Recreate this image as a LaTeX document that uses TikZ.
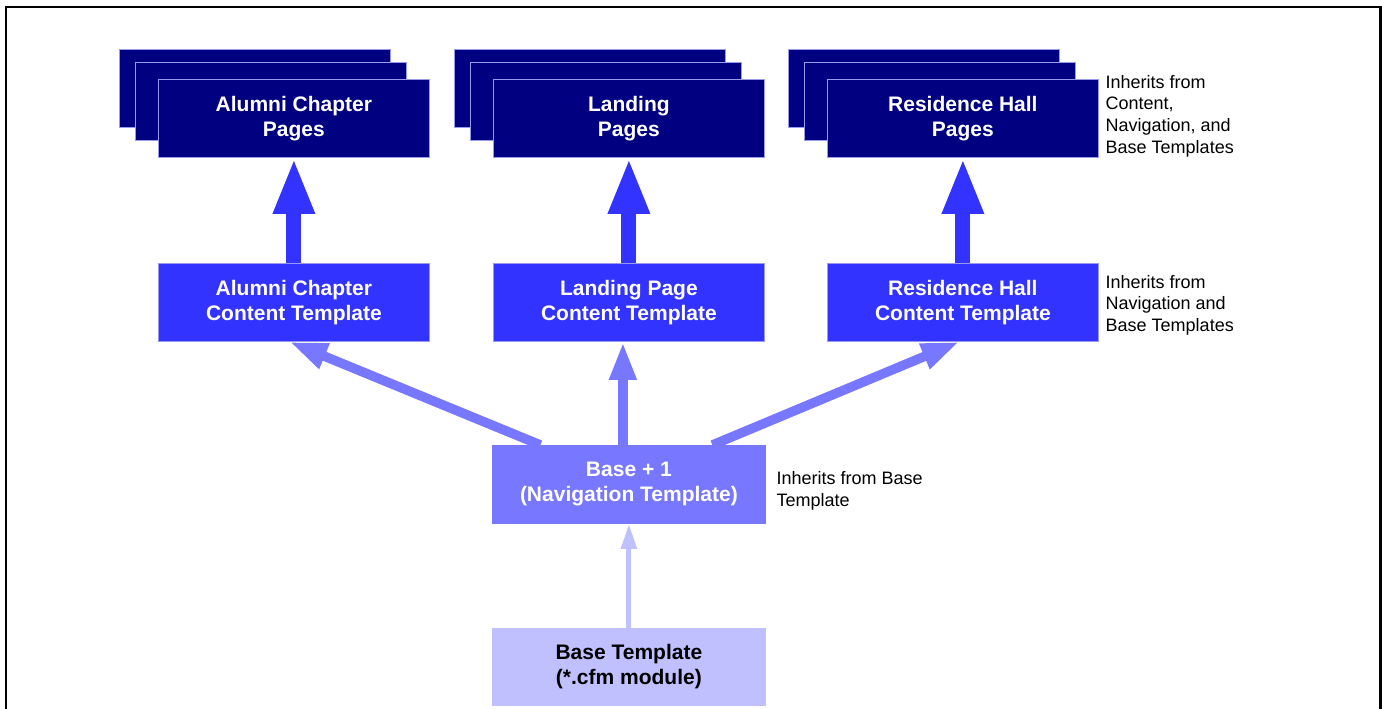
\documentclass[tikz,border=0pt]{standalone}
\usepackage{fontspec}
\setmainfont{Liberation Sans}
\usetikzlibrary{arrows.meta}
\definecolor{navy}{HTML}{000080}
\definecolor{contentblue}{HTML}{3333FF}
\definecolor{navblue}{HTML}{7777FF}
\definecolor{baseblue}{HTML}{C0C0FF}
\definecolor{edgeblue}{HTML}{9999EE}
\tikzset{
  box/.style={anchor=north west, minimum width=271pt, minimum height=78pt, inner sep=0pt,
    align=center, font=\bfseries\fontsize{21}{25}\selectfont, text=white, draw=edgeblue, line width=0.8pt},
  pagebox/.style={box, fill=navy},
  contentbox/.style={box, fill=contentblue},
  navbox/.style={box, fill=navblue, draw=navblue, minimum width=273pt},
  basebox/.style={box, fill=baseblue, draw=baseblue, text=black, minimum width=273pt, minimum height=77pt},
  note/.style={anchor=west, inner sep=0pt, align=left, font=\fontsize{18}{21.6}\selectfont},
  arrbig/.style={draw=contentblue, line width=15pt, -{Triangle[length=56pt,width=38pt]}, fill=contentblue},
  arrmid/.style={draw=navblue, line width=9.5pt, -{Triangle[length=38pt,width=25pt]}, fill=navblue},
  arrsmall/.style={draw=baseblue, line width=5pt, -{Triangle[length=25pt,width=15pt]}, fill=baseblue},
}
\begin{document}
\begin{tikzpicture}[x=1pt,y=-1pt]
\useasboundingbox (0,0) rectangle (1382,709);
% frame
\draw[line width=2.2pt] (6,709) -- (6,7) -- (1380.5,7) -- (1380.5,709);

% stacked page boxes
\node[pagebox] (p1b) at (119,49) {};
\node[pagebox] (p1m) at (135,62) {};
\node[pagebox] (p1) at (158,79) {Alumni Chapter\\Pages};
\node[pagebox] (p2b) at (454,49) {};
\node[pagebox] (p2m) at (470,62) {};
\node[pagebox] (p2) at (493,79) {Landing\\Pages};
\node[pagebox] (p3b) at (788,49) {};
\node[pagebox] (p3m) at (804,62) {};
\node[pagebox] (p3) at (827,79) {Residence Hall\\Pages};

% content templates
\node[contentbox] (c1) at (158,263) {Alumni Chapter\\Content Template};
\node[contentbox] (c2) at (493,263) {Landing Page\\Content Template};
\node[contentbox] (c3) at (827,263) {Residence Hall\\Content Template};

% navigation & base
\node[navbox] (nav) at (492,445) {Base + 1\\(Navigation Template)};
\node[basebox] (base) at (492,628) {Base Template\\(*.cfm module)};

% notes
\node[note] (n1) at (1105.5,116) {Inherits from\\Content,\\Navigation, and\\Base Templates};
\node[note] (n2) at (1105.5,305) {Inherits from\\Navigation and\\Base Templates};
\node[note] (n3) at (776.5,491) {Inherits from Base\\Template};

% arrows
\draw[arrbig] (c1.north) -- (p1.south);
\draw[arrbig] (c2.north) -- (p2.south);
\draw[arrbig] (c3.north) -- (p3.south);
\draw[arrmid] ([xshift=-6pt]nav.north) -- ([xshift=-6pt]c2.south);
\draw[arrmid] ([xshift=-88.5pt]nav.north) -- ([xshift=-4.5pt]c1.south);
\draw[arrmid] ([xshift=83.5pt]nav.north) -- ([xshift=-3.5pt]c3.south);
\draw[arrsmall] (base.north) -- (nav.south);
\end{tikzpicture}
\end{document}
